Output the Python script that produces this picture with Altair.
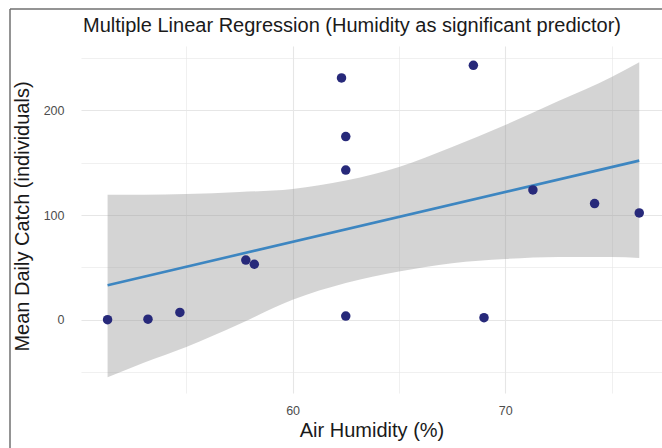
import altair as alt
import pandas as pd

humidity = [51.3, 53.2, 54.7, 57.8, 58.2, 62.3, 62.5, 62.5, 62.5, 68.5, 69.0, 71.3, 74.2, 76.3]
catch = [0, 0.5, 7, 57, 53, 231, 175, 143, 3.5, 243, 2, 124, 111, 102]

# Fitted line endpoints
fit_x = [51.3, 76.3]
fit_y = [33, 152]

# Confidence band (read at several humidity values)
band_x = [51.3, 53, 55, 57.5, 60, 62.5, 65, 67.5, 70, 72.5, 75, 76.3]
band_hi = [119.5, 119.5, 120, 122, 125, 133, 146, 165, 186, 209, 232, 246]
band_lo = [-55, -41, -26, -4, 19, 35, 46, 54, 58, 60, 60, 59]

title_text = ["Multiple Linear Regression (Humidity as significant predictor)"]

pts = pd.DataFrame({"hum": humidity, "catch": catch})
fit = pd.DataFrame({"hum": fit_x, "catch": fit_y})
band = pd.DataFrame({"hum": band_x, "lo": band_lo, "hi": band_hi})
frame = pd.DataFrame({"k": [0]})
ttl = pd.DataFrame({"t": title_text})

FONT = "Liberation Sans"
W, H = 581, 347

xscale = alt.Scale(domain=[50.05, 77.37], nice=False, zero=False)
yscale = alt.Scale(domain=[-70, 261.5], nice=False, zero=False)

grid_w = {"condition": {"test": "datum.value % 10 === 0", "value": 1.1}, "value": 0.6}
ygrid_w = {"condition": {"test": "datum.value % 100 === 0", "value": 1.1}, "value": 0.6}

xaxis = alt.Axis(
    title="Air Humidity (%)",
    values=[55, 60, 65, 70, 75],
    labelExpr="datum.value % 10 === 0 ? datum.label : ''",
    ticks=False, tickSize=0, domain=False,
    labelPadding=11, titlePadding=4,
    labelFont=FONT, labelFontSize=12.5, labelColor="#4D4D4D",
    titleFont=FONT, titleFontSize=20, titleColor="#1A1A1A", titleFontWeight="normal",
    gridColor="#E6E6E6", gridWidth=grid_w, labelFlush=False,
)
yaxis = alt.Axis(
    title="Mean Daily Catch (individuals)",
    values=[-50, 0, 50, 100, 150, 200, 250],
    labelExpr="datum.value % 100 === 0 ? datum.label : ''",
    ticks=False, tickSize=0, domain=False,
    labelPadding=17, titlePadding=11, titleY=170,
    labelFont=FONT, labelFontSize=12.5, labelColor="#4D4D4D",
    titleFont=FONT, titleFontSize=20, titleColor="#1A1A1A", titleFontWeight="normal",
    gridColor="#E6E6E6", gridWidth=ygrid_w,
)

band_layer = alt.Chart(band).mark_area(
    color="#999999", opacity=0.42, interpolate="monotone"
).encode(
    x=alt.X("hum:Q", scale=xscale, axis=xaxis),
    y=alt.Y("lo:Q", scale=yscale, axis=yaxis),
    y2="hi:Q",
)

line_layer = alt.Chart(fit).mark_line(color="#3D86C1", strokeWidth=2.6).encode(
    x=alt.X("hum:Q", scale=xscale),
    y=alt.Y("catch:Q", scale=yscale),
)

point_layer = alt.Chart(pts).mark_circle(color="#27297A", size=90, opacity=1).encode(
    x=alt.X("hum:Q", scale=xscale),
    y=alt.Y("catch:Q", scale=yscale),
)

frame_v = alt.Chart(frame).mark_rule(color="#707070", strokeWidth=1.5).encode(
    x=alt.value(-71), y=alt.value(-37), y2=alt.value(402)
)
frame_h = alt.Chart(frame).mark_rule(color="#707070", strokeWidth=1.5).encode(
    y=alt.value(-37), x=alt.value(-71), x2=alt.value(W)
)

title_layer = alt.Chart(ttl).mark_text(
    align="left", baseline="alphabetic", font=FONT, fontSize=20, color="#1A1A1A"
).encode(
    text="t:N", x=alt.value(2), y=alt.value(-14)
)

chart = alt.layer(band_layer, line_layer, point_layer, frame_v, frame_h, title_layer).properties(
    width=W,
    height=H,
    autosize=alt.AutoSizeParams(type="none"),
    padding={"left": 81, "top": 46, "right": 0, "bottom": 55},
    background="white",
).configure_view(stroke=None)

chart.save("out.html", embed_options={"renderer": "svg", "actions": False})
